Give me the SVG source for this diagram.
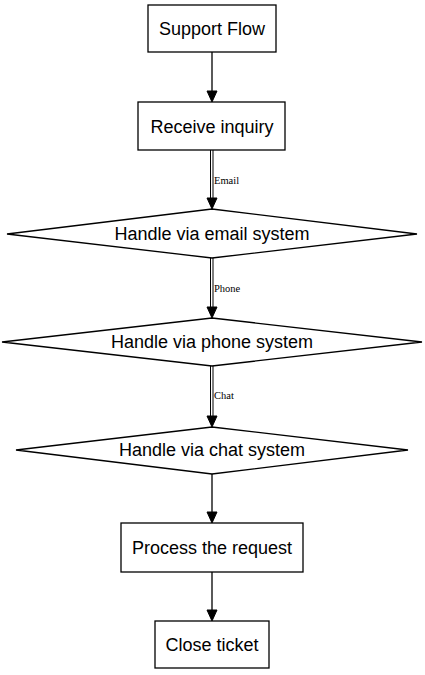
<svg xmlns="http://www.w3.org/2000/svg" width="425" height="675" viewBox="0 0 425 675">
<style>
.n{fill:#fff;stroke:#000;stroke-width:1.3}
.t{font-family:"Liberation Sans",Arial,sans-serif;font-size:18px;text-anchor:middle;fill:#000}
.e{stroke:#000;stroke-width:1.3;fill:none}
.d{stroke:#000;stroke-width:1;fill:none}
.l{font-family:"Liberation Serif","Times New Roman",serif;font-size:10.5px;fill:#000}
.a{fill:#000;stroke:#000;stroke-width:1}
</style>
<rect width="425" height="675" fill="#fff"/>
<g id="connectors">
<line class="e" x1="212" y1="52" x2="212" y2="91"/>
<polygon class="a" points="207,91 217,91 212,102"/>
<line class="d" x1="210.5" y1="150" x2="210.5" y2="198"/>
<line class="d" x1="213" y1="150" x2="213" y2="198"/>
<polygon class="a" points="207,198 217,198 212,209"/>
<text class="l" x="214" y="184">Email</text>
<line class="d" x1="210.5" y1="258" x2="210.5" y2="307"/>
<line class="d" x1="213" y1="258" x2="213" y2="307"/>
<polygon class="a" points="207,307 217,307 212,318"/>
<text class="l" x="214" y="292">Phone</text>
<line class="d" x1="210.5" y1="366" x2="210.5" y2="416"/>
<line class="d" x1="213" y1="366" x2="213" y2="416"/>
<polygon class="a" points="207,416 217,416 212,427"/>
<text class="l" x="214" y="399">Chat</text>
<line class="e" x1="212" y1="474" x2="212" y2="512"/>
<polygon class="a" points="207,512 217,512 212,523"/>
<line class="e" x1="212" y1="572" x2="212" y2="610"/>
<polygon class="a" points="207,610 217,610 212,621"/>
</g>
<g id="support-flow">
<rect class="n" x="148" y="5" width="128" height="47"/>
<text class="t" x="212" y="34.5">Support Flow</text>
</g>
<g id="receive-inquiry">
<rect class="n" x="138" y="102" width="147" height="48"/>
<text class="t" x="212" y="132.5">Receive inquiry</text>
</g>
<g id="email">
<polygon class="n" points="212,209 417,234 212,258 7,234"/>
<text class="t" x="212" y="240">Handle via email system</text>
</g>
<g id="phone">
<polygon class="n" points="212,318 422,342 212,366 2,342"/>
<text class="t" x="212" y="348">Handle via phone system</text>
</g>
<g id="chat">
<polygon class="n" points="212,427 408,450 212,474 16,450"/>
<text class="t" x="212" y="456">Handle via chat system</text>
</g>
<g id="process">
<rect class="n" x="121" y="523" width="182" height="49"/>
<text class="t" x="212" y="553.5">Process the request</text>
</g>
<g id="close">
<rect class="n" x="155" y="621" width="114" height="47"/>
<text class="t" x="212" y="650.5">Close ticket</text>
</g>
</svg>
